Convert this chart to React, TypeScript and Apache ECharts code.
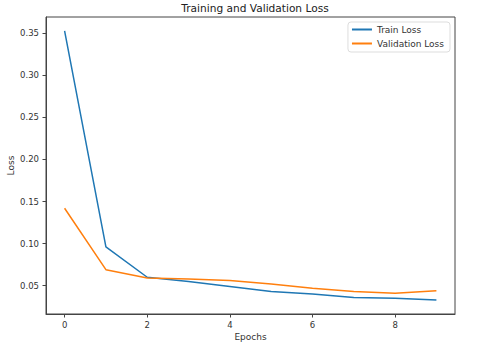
import React, { useEffect, useRef } from "react";
import * as echarts from "echarts";

const epochs = [0, 1, 2, 3, 4, 5, 6, 7, 8, 9];
const trainLoss = [0.353, 0.096, 0.060, 0.055, 0.049, 0.043, 0.040, 0.036, 0.035, 0.033];
const valLoss = [0.142, 0.069, 0.059, 0.058, 0.056, 0.052, 0.047, 0.043, 0.041, 0.044];
const xTicks = [0, 2, 4, 6, 8];
const yTicks = [0.05, 0.1, 0.15, 0.2, 0.25, 0.3, 0.35];

const FONT = "DejaVu Sans";

export default function App() {
  const ref = useRef<HTMLDivElement>(null);
  useEffect(() => {
    if (!ref.current) return;
    const chart = echarts.init(ref.current, null, { renderer: "svg" });
    const axisCommon = {
      axisLine: { show: true, onZero: false, lineStyle: { color: "#444", width: 1 } },
      axisTick: { show: true, inside: false, length: 3.5, lineStyle: { color: "#444" } },
      splitLine: { show: false },
    };
    chart.setOption({
      animation: false,
      backgroundColor: "#fff",
      title: {
        text: "Training and Validation Loss",
        left: 250,
        textAlign: "center",
        top: -3,
        textStyle: { fontFamily: FONT, fontSize: 10.6, fontWeight: "normal", color: "#222" },
      },
      legend: {
        right: 30,
        top: 22,
        orient: "vertical",
        backgroundColor: "#fff",
        borderColor: "#ddd",
        borderWidth: 1,
        borderRadius: 3,
        padding: [2, 6, 3, 4],
        itemGap: 3,
        itemWidth: 20,
        itemHeight: 2,
        icon: "rect",
        textStyle: { fontFamily: FONT, fontSize: 9, color: "#333", lineHeight: 11 },
        data: ["Train Loss", "Validation Loss"],
      },
      grid: {
        left: 46,
        right: 25,
        top: 17,
        bottom: 32,
        show: true,
        borderColor: "#444",
        borderWidth: 1,
        containLabel: false,
        outerBoundsMode: "none",
      },
      xAxis: {
        type: "value",
        min: -0.45,
        max: 9.45,
        name: "Epochs",
        nameLocation: "middle",
        nameGap: 18,
        nameMoveOverlap: false,
        nameTextStyle: { fontFamily: FONT, fontSize: 9, color: "#333" },
        ...axisCommon,
        axisTick: { ...axisCommon.axisTick, customValues: xTicks },
        axisLabel: {
          customValues: xTicks,
          fontFamily: FONT,
          fontSize: 8.5,
          color: "#333",
          margin: 6,
          formatter: (v: number) => String(v),
        },
      },
      yAxis: {
        type: "value",
        min: 0.0163,
        max: 0.3694,
        name: "Loss",
        nameLocation: "middle",
        nameRotate: 90,
        nameGap: 31,
        nameMoveOverlap: false,
        nameTextStyle: { fontFamily: FONT, fontSize: 9, color: "#333" },
        ...axisCommon,
        axisTick: { ...axisCommon.axisTick, customValues: yTicks },
        axisLabel: {
          customValues: yTicks,
          fontFamily: FONT,
          fontSize: 8.5,
          color: "#333",
          margin: 7,
          formatter: (v: number) => v.toFixed(2),
        },
      },
      series: [
        {
          name: "Train Loss",
          type: "line",
          data: epochs.map((e, i) => [e, trainLoss[i]]),
          symbol: "none",
          lineStyle: { color: "#1f77b4", width: 1.5 },
          itemStyle: { color: "#1f77b4" },
        },
        {
          name: "Validation Loss",
          type: "line",
          data: epochs.map((e, i) => [e, valLoss[i]]),
          symbol: "none",
          lineStyle: { color: "#ff7f0e", width: 1.5 },
          itemStyle: { color: "#ff7f0e" },
        },
      ],
    });
    return () => chart.dispose();
  }, []);
  return <div ref={ref} style={{ width: 480, height: 346, position: "absolute", left: 0, top: 0 }} />;
}
